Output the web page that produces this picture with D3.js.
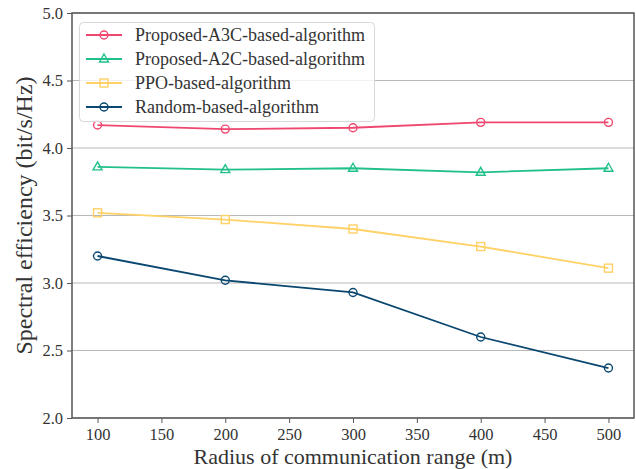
<!DOCTYPE html>
<html>
<head>
<meta charset="utf-8">
<script src="https://d3js.org/d3.v7.min.js"></script>
<style>
  body { margin: 0; background: #fff; }
  text { font-family: "Liberation Serif", "DejaVu Serif", serif; fill: #333; }
</style>
</head>
<body>
<div id="chart"></div>
<script>
// data
var radius = [100, 200, 300, 400, 500];
var a3c = [4.17, 4.14, 4.15, 4.19, 4.19];
var a2c = [3.86, 3.84, 3.85, 3.82, 3.85];
var ppo = [3.52, 3.47, 3.40, 3.27, 3.11];
var rnd = [3.20, 3.02, 2.93, 2.60, 2.37];
var names = ["Proposed-A3C-based-algorithm", "Proposed-A2C-based-algorithm", "PPO-based-algorithm", "Random-based-algorithm"];
var xTicks = [100, 150, 200, 250, 300, 350, 400, 450, 500];
var yTicks = [2.0, 2.5, 3.0, 3.5, 4.0, 4.5, 5.0];

var series = [
    { name: names[0], values: a3c, color: "#ef476f", marker: "circle" },
    { name: names[1], values: a2c, color: "#21bf8c", marker: "triangle" },
    { name: names[2], values: ppo, color: "#ffd166", marker: "square" },
    { name: names[3], values: rnd, color: "#0a4770", marker: "circle" }
];

var width = 636, height = 469;
var margin = { top: 13, right: 2, bottom: 51, left: 72 };

var svg = d3.select("#chart").append("svg")
    .attr("width", width)
    .attr("height", height);

var x = d3.scaleLinear().domain([80, 520]).range([margin.left, width - margin.right]);
var y = d3.scaleLinear().domain([2.0, 5.0]).range([height - margin.bottom, margin.top]);

// horizontal grid
svg.append("g")
    .selectAll("line")
    .data(yTicks)
    .enter().append("line")
    .attr("x1", x.range()[0]).attr("x2", x.range()[1])
    .attr("y1", function (d) { return y(d); })
    .attr("y2", function (d) { return y(d); })
    .attr("stroke", "#b8b8b8")
    .attr("stroke-width", 1);

// axes
var xAxis = svg.append("g")
    .attr("transform", "translate(0," + y.range()[0] + ")")
    .call(d3.axisBottom(x).tickValues(xTicks).tickFormat(d3.format("d")).tickSize(5).tickPadding(5));

var yAxis = svg.append("g")
    .attr("transform", "translate(" + x.range()[0] + ",0)")
    .call(d3.axisLeft(y).tickValues(yTicks).tickFormat(d3.format(".1f")).tickSize(5).tickPadding(4));

[xAxis, yAxis].forEach(function (ax) {
    ax.selectAll("text").style("font-size", "16.5px").attr("fill", "#333");
    ax.selectAll("line").attr("stroke", "#555");
    ax.select(".domain").remove();
});

// frame
svg.append("rect")
    .attr("x", x.range()[0]).attr("y", y.range()[1])
    .attr("width", x.range()[1] - x.range()[0])
    .attr("height", y.range()[0] - y.range()[1])
    .attr("fill", "none")
    .attr("stroke", "#555")
    .attr("stroke-width", 1.5);

// lines
var line = d3.line()
    .x(function (d, i) { return x(radius[i]); })
    .y(function (d) { return y(d); });

function drawMarker(g, type, cx, cy, color) {
    if (type == "circle") {
        g.append("circle").attr("cx", cx).attr("cy", cy).attr("r", 4)
            .attr("fill", "none").attr("stroke", color).attr("stroke-width", 1.4);
    } else if (type == "square") {
        g.append("rect").attr("x", cx - 4).attr("y", cy - 4).attr("width", 8).attr("height", 8)
            .attr("fill", "none").attr("stroke", color).attr("stroke-width", 1.4);
    } else {
        g.append("path")
            .attr("d", "M" + cx + "," + (cy - 5) + "L" + (cx + 4.5) + "," + (cy + 3) + "L" + (cx - 4.5) + "," + (cy + 3) + "Z")
            .attr("fill", "none").attr("stroke", color).attr("stroke-width", 1.4);
    }
}

series.forEach(function (s) {
    var g = svg.append("g");
    g.append("path")
        .datum(s.values)
        .attr("d", line)
        .attr("fill", "none")
        .attr("stroke", s.color)
        .attr("stroke-width", 1.8);
    s.values.forEach(function (v, i) {
        drawMarker(g, s.marker, x(radius[i]), y(v), s.color);
    });
});

// legend
var legend = svg.append("g");
legend.append("rect")
    .attr("x", 79.5).attr("y", 22.5)
    .attr("width", 295).attr("height", 99)
    .attr("rx", 4)
    .attr("fill", "#fff").attr("fill-opacity", 0.8)
    .attr("stroke", "#d8d8d8");

series.forEach(function (s, i) {
    var ly = 35 + i * 24;
    legend.append("line")
        .attr("x1", 86).attr("x2", 122)
        .attr("y1", ly).attr("y2", ly)
        .attr("stroke", s.color).attr("stroke-width", 1.8);
    drawMarker(legend, s.marker, 104, ly, s.color);
    legend.append("text")
        .attr("x", 135).attr("y", ly)
        .attr("dy", "0.35em")
        .style("font-size", "18px")
        .text(s.name);
});

// axis titles
svg.append("text")
    .attr("x", (x.range()[0] + x.range()[1]) / 2)
    .attr("y", 464)
    .attr("text-anchor", "middle")
    .style("font-size", "22px")
    .text("Radius of communication range (m)");

svg.append("text")
    .attr("transform", "translate(32," + ((y.range()[0] + y.range()[1]) / 2) + ") rotate(-90)")
    .attr("text-anchor", "middle")
    .style("font-size", "24px")
    .text("Spectral efficiency (bit/s/Hz)");
</script>
</body>
</html>
